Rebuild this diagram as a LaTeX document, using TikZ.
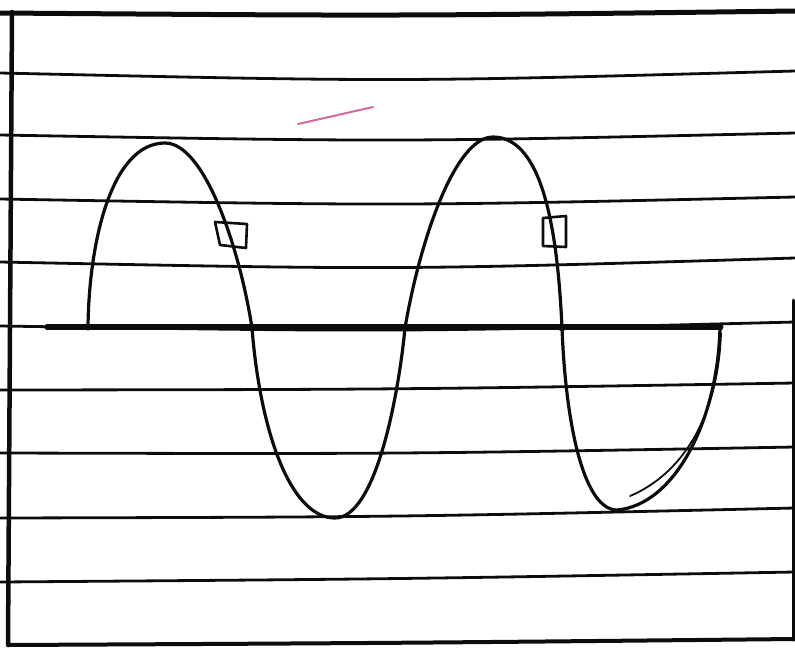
\documentclass[tikz,border=0pt]{standalone}
\usepackage{tikz}
\usetikzlibrary{calc}
\usepackage{xcolor}
\definecolor{ink}{RGB}{12,12,12}
\definecolor{bleed}{RGB}{200,70,130}

\begin{document}
\begin{tikzpicture}[x=1pt,y=-1pt,line cap=round,line join=round]
	
	\useasboundingbox (0,0) rectangle (795,653);
	
	% --- ruled lines of the page ---
	\foreach \ya/\yb/\yc in {73/77/71, 135/138/133, 199/202/197, 262/265/258,
		326/328/322, 390/388/383, 453/452/447, 518/515/508, 582/578/572}
	\draw[ink,line width=2.8pt] (0,\ya) .. controls (400,{2*\yb-(\ya+\yc)/2}) .. (795,\yc);
	
	% --- frame ---
	\draw[ink,line width=5pt] (0,13) .. controls (400,16) .. (795,11);
	\draw[ink,line width=4.5pt] (12,12) -- (8,645);
	\draw[ink,line width=4pt] (8,645) .. controls (400,643) .. (795,639);
	\draw[ink,line width=3pt] (793,300) -- (793,640);
	
	% --- axis ---
	\coordinate (z0) at (88,327);
	\coordinate (z1) at (252,328);
	\coordinate (z2) at (405,328);
	\coordinate (z3) at (562,328);
	\coordinate (z4) at (720,327);
	\draw[ink,line width=5.5pt] (47,327) -- (z4);
	
	% --- the wave ---
	\coordinate (p1) at (165,143);
	\coordinate (t1) at (335,518);
	\coordinate (p2) at (493,137);
	\coordinate (t2) at (617,510);
	\draw[ink,line width=3.2pt]
	(z0) .. controls (89,240) and (112,143) .. (p1)
	.. controls (205,143) and (240,250) .. (z1)
	.. controls (260,430) and (290,518) .. (t1)
	.. controls (375,518) and (398,400) .. (z2)
	.. controls (420,240) and (455,137) .. (p2)
	.. controls (545,137) and (558,240) .. (z3)
	.. controls (566,430) and (585,510) .. (t2)
	.. controls (675,505) and (718,420) .. (z4);
	% second stroke on the last trough
	\draw[ink,line width=1.8pt] (721,333) .. controls (718,420) and (680,475) .. (630,496);
	
	% dots on the axis
	\foreach \p in {z0,z1,z2,z3,z4}
	\fill[ink] (\p) circle (3.5);
	
	% --- small boxes on the falling slopes ---
	\draw[ink,line width=2.6pt] (215,222) -- (247,224) -- (246,248) -- (220,245) -- cycle;
	\draw[ink,line width=2.6pt] (543,218) -- (566,216) -- (566,247) -- (543,246) -- cycle;
	
	% stroke showing through the page
	\draw[bleed,line width=2pt,opacity=0.8] (298,124) -- (373,107);
	
\end{tikzpicture}
\end{document}
